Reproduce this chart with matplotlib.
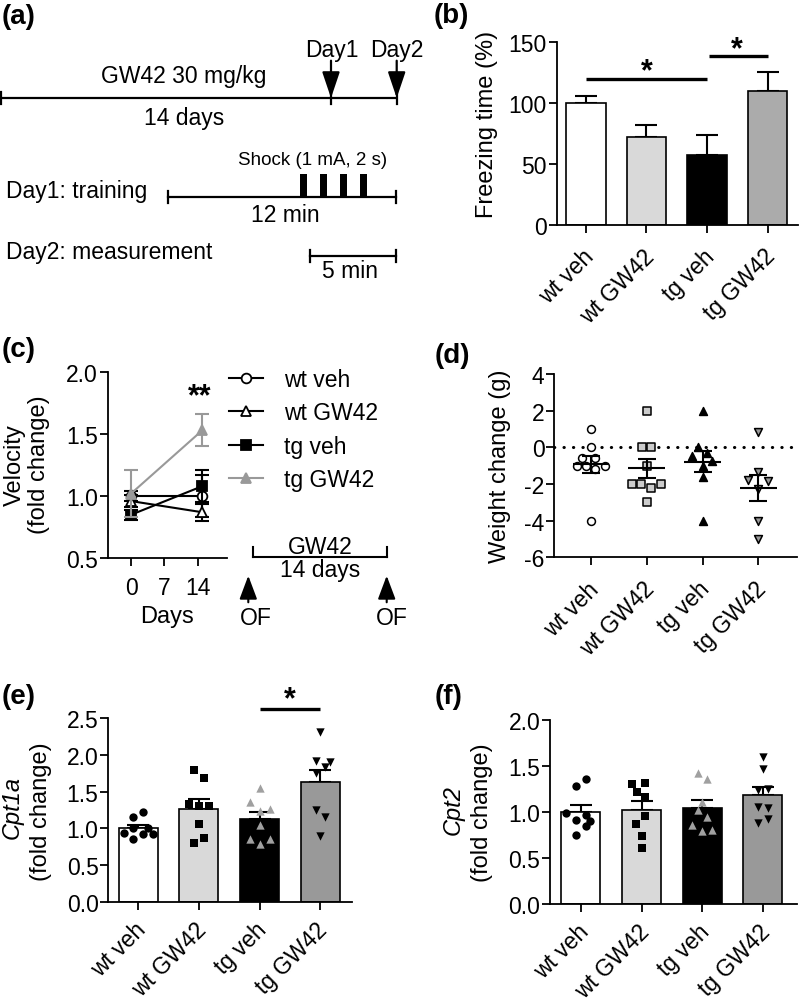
import numpy as np
import matplotlib
matplotlib.use("Agg")
import matplotlib.pyplot as plt
from matplotlib.patches import Rectangle
from matplotlib.transforms import ScaledTranslation

plt.rcParams['font.family'] = ['Liberation Sans', 'DejaVu Sans']
plt.rcParams['axes.unicode_minus'] = False

# ---------------- data ----------------
groups = ['wt veh', 'wt GW42', 'tg veh', 'tg GW42']

# (b) freezing time (%)
freeze_mean = [100.0, 71.6, 57.4, 109.6]
freeze_sem = [5.2, 10.4, 16.1, 15.3]

# (c) velocity (fold change)
vel_days = [0, 15]
vel_ticks = [0, 7, 14]
vel_wt_veh = [1.00, 1.00]
vel_wt_veh_err = [0.04, 0.17]
vel_wt_gw = [0.96, 0.87]
vel_wt_gw_err = [0.05, 0.07]
vel_tg_veh = [0.85, 1.08]
vel_tg_veh_err = [0.04, 0.13]
vel_tg_gw = [1.02, 1.53]
vel_tg_gw_err = [0.19, 0.13]

# (d) weight change (g)
wt_veh_w = [1.0, 0.0, -0.6, -0.6, -1.0, -1.0, -1.0, -1.2, -4.0]
wt_gw_w = [2.0, 0.0, 0.0, -1.0, -2.0, -2.0, -2.0, -2.24, -3.0]
tg_veh_w = [2.0, 0.0, -0.5, -0.33, -0.73, -1.0, -1.64, -4.0]
tg_gw_w = [0.82, -1.36, -1.78, -1.85, -2.27, -4.0, -5.0]
# horizontal jitter (category units)
wt_veh_wj = [0, 0, -0.17, 0.07, -0.26, -0.1, 0.25, 0.07, 0]
wt_gw_wj = [0, -0.09, 0.08, 0, -0.27, -0.1, 0.25, 0.08, 0]
tg_veh_wj = [0, -0.09, -0.18, 0.08, 0.17, 0, 0, 0]
tg_gw_wj = [0, 0, -0.18, 0.18, 0, 0, 0]

# (e) Cpt1a
cpt1a_wt_veh = [1.22, 1.15, 1.01, 1.00, 0.93, 0.92, 0.92, 0.85]
cpt1a_wt_gw = [1.79, 1.69, 1.33, 1.31, 1.31, 1.06, 0.87, 0.80]
cpt1a_tg_veh = [1.55, 1.36, 1.26, 1.24, 1.05, 0.86, 0.86, 0.79]
cpt1a_tg_gw = [2.32, 1.92, 1.91, 1.83, 1.76, 1.25, 1.16, 0.89]
cpt1a_j = [[0.08, -0.08, -0.08, 0.165, -0.24, 0.08, 0.235, -0.08],
           [-0.08, 0.08, -0.16, 0, 0.165, 0, 0.08, -0.08],
           [0, -0.15, 0.175, 0, 0, -0.15, 0.165, 0],
           [0, -0.07, 0.165, 0.08, -0.07, -0.07, 0.08, 0]]

# (f) Cpt2
cpt2_wt_veh = [1.36, 1.28, 0.99, 0.96, 0.91, 0.90, 0.84, 0.75]
cpt2_wt_gw = [1.30, 1.31, 1.21, 1.16, 0.95, 0.87, 0.74, 0.61]
cpt2_tg_veh = [1.42, 1.36, 1.11, 1.02, 0.94, 0.86, 0.79, 0.80]
cpt2_tg_gw = [1.60, 1.46, 1.24, 1.25, 1.05, 1.04, 0.88, 0.92]
cpt2_j = [[0.08, -0.08, -0.24, 0.08, -0.08, 0.15, 0.08, -0.08],
          [-0.165, 0.065, -0.08, 0.065, 0.065, -0.09, 0, 0],
          [-0.07, 0.08, 0, -0.07, 0.08, -0.165, 0, 0.165],
          [0, 0, -0.08, 0.08, -0.08, 0.08, -0.08, 0.08]]

# ---------------- figure ----------------
W, H = 800, 1003
fig = plt.figure(figsize=(W / 100, H / 100), dpi=100)
ov = fig.add_axes([0, 0, 1, 1], zorder=10)
ov.set_xlim(0, W)
ov.set_ylim(H, 0)
ov.axis('off')

FS = 16.5
LFS = 17
LW = 1.3


def axpos(l, t, r, b):
    return [l / W, 1 - b / H, (r - l) / W, (b - t) / H]


def style(ax):
    for s in ['top', 'right']:
        ax.spines[s].set_visible(False)
    for s in ['left', 'bottom']:
        ax.spines[s].set_linewidth(LW)
    ax.tick_params(direction='out', length=6, width=LW, labelsize=FS, pad=1)
    ax.patch.set_visible(False)


def catlabels(ax, pad=14):
    ax.set_xticks(range(4))
    ax.set_xticklabels(groups, rotation=45, ha='right', va='center',
                       rotation_mode='anchor', fontsize=FS)
    ax.tick_params(axis='x', pad=pad)
    off = ScaledTranslation(4 / 100, 0, fig.dpi_scale_trans)
    for lab in ax.get_xticklabels():
        lab.set_transform(lab.get_transform() + off)


def ylab(ax, text, x, y, **kw):
    ax.set_ylabel(text, fontsize=LFS, va='center', ha='center', **kw)
    ax.yaxis.set_label_coords(x, y, transform=ov.transData)


def star(x, y, s='*'):
    ov.text(x, y + 7, s, fontsize=22, fontweight='bold', ha='center', va='center')


# ---------------- panel labels ----------------
for lab, x, y in [('(a)', 2, 17), ('(b)', 434, 16), ('(c)', 2, 350),
                  ('(d)', 435, 356), ('(e)', 2, 697), ('(f)', 435, 697)]:
    ov.text(x, y, lab, fontsize=20, fontweight='bold', ha='left', va='center')

# ---------------- (a) schematic ----------------
la = 1.6
ov.plot([0, 396.7], [99, 99], 'k', lw=la, solid_capstyle='butt')
for x in [1.2, 331, 396.7]:
    ov.plot([x, x], [93, 105], 'k', lw=la)
for x in [331, 396.7]:
    ov.annotate('', xy=(x, 99), xytext=(x, 61.7),
                arrowprops=dict(arrowstyle='-|>,head_length=0.8,head_width=0.27',
                                mutation_scale=20, lw=la, color='k',
                                shrinkA=0, shrinkB=0))
ov.text(331.7, 50, 'Day1', fontsize=FS, ha='center', va='center')
ov.text(396.7, 50, 'Day2', fontsize=FS, ha='center', va='center')
ov.text(183.3, 76, 'GW42 30 mg/kg', fontsize=FS, ha='center', va='center')
ov.text(184, 118.3, '14 days', fontsize=FS, ha='center', va='center')
ov.text(312.7, 160.7, 'Shock (1 mA, 2 s)', fontsize=13.5, ha='center', va='center')
ov.text(6, 191, 'Day1: training', fontsize=FS, ha='left', va='center')
ov.plot([168.3, 396], [197.7, 197.7], 'k', lw=la)
for x in [168.3, 396]:
    ov.plot([x, x], [191.5, 204], 'k', lw=la)
for xc in [303.3, 323.3, 343.3, 363.3]:
    ov.add_patch(Rectangle((xc - 3.4, 175), 6.8, 22.7, color='k', lw=0))
ov.text(285, 215, '12 min', fontsize=FS, ha='center', va='center')
ov.text(6, 252.3, 'Day2: measurement', fontsize=FS, ha='left', va='center')
ov.plot([310, 396], [256.7, 256.7], 'k', lw=la)
for x in [310, 396]:
    ov.plot([x, x], [250.5, 263], 'k', lw=la)
ov.text(350, 271.7, '5 min', fontsize=FS, ha='center', va='center')

# ---------------- (b) ----------------
ax_b = fig.add_axes(axpos(556.7, 42.7, 798, 225.7))
style(ax_b)
bcol_b = ['white', '#d9d9d9', 'black', '#ababab']
xb = np.arange(4)
ax_b.bar(xb, freeze_mean, width=0.65, color=bcol_b, edgecolor='k', linewidth=1.2, zorder=2)
ax_b.errorbar(xb, freeze_mean, yerr=[np.zeros(4), freeze_sem], fmt='none',
              ecolor='k', elinewidth=1.5, capsize=8, capthick=1.5, zorder=1)
ax_b.set_xlim(-0.48, 3.5)
ax_b.set_ylim(0, 150)
ax_b.set_yticks([0, 50, 100, 150])
catlabels(ax_b)
ylab(ax_b, 'Freezing time (%)', 486.7, 124)
ax_b.plot([0, 2], [119.4, 119.4], 'k', lw=2.4, clip_on=False, solid_capstyle='butt')
ax_b.plot([2.04, 3.01], [138.5, 138.5], 'k', lw=2.4, clip_on=False, solid_capstyle='butt')
star(646.7, 65)
star(737.3, 43.3)

# ---------------- (c) ----------------
ax_c = fig.add_axes(axpos(107.7, 372.7, 226.7, 559.3))
style(ax_c)
ax_c.tick_params(axis='x', pad=7)
series_c = [
    (vel_wt_veh, vel_wt_veh_err, 'o', 'white', 'black', 'wt veh'),
    (vel_wt_gw, vel_wt_gw_err, '^', 'white', 'black', 'wt GW42'),
    (vel_tg_veh, vel_tg_veh_err, 's', 'black', 'black', 'tg veh'),
    (vel_tg_gw, vel_tg_gw_err, '^', '#999999', '#999999', 'tg GW42'),
]
handles = []
for vals, errs, mk, mfc, col, lab in series_c:
    ax_c.errorbar(vel_days, vals, yerr=errs, fmt='none', ecolor=col,
                  elinewidth=1.5, capsize=5, capthick=1.5, clip_on=False)
    ln, = ax_c.plot(vel_days, vals, marker=mk, mfc=mfc, mec=col, mew=1.3,
                    color=col, lw=1.5, ms=7, label=lab, clip_on=False)
    handles.append(ln)
ax_c.set_xlim(-4.9, 20.1)
ax_c.set_ylim(0.5, 2.0)
ax_c.set_xticks(vel_ticks)
ax_c.set_yticks([0.5, 1.0, 1.5, 2.0])
ax_c.set_yticklabels(['0.5', '1.0', '1.5', '2.0'])
ax_c.set_xlabel('Days', fontsize=LFS)
ax_c.xaxis.set_label_coords(166.7, 617.3, transform=ov.transData)
ax_c.xaxis.label.set_va('center')
ylab(ax_c, 'Velocity\n(fold change)', 27, 465)
ax_c.yaxis.label.set_linespacing(1.15)
ax_c.legend(handles, [h.get_label() for h in handles], loc='upper left',
            bbox_to_anchor=(229 / W, 1 - 369 / H), bbox_transform=fig.transFigure,
            frameon=False, fontsize=FS, handlelength=1.5, handletextpad=0.9,
            labelspacing=0.45, borderpad=0, borderaxespad=0)
star(200, 390, '**')
# GW42 14 days bracket and OF arrows
ov.plot([253.3, 386.7], [558.3, 558.3], 'k', lw=1.5)
for x in [253.3, 386.7]:
    ov.plot([x, x], [548, 558.3], 'k', lw=1.5)
ov.text(320, 547, 'GW42', fontsize=FS, ha='center', va='center')
ov.text(320, 571, '14 days', fontsize=FS, ha='center', va='center')
for x in [248.3, 386.7]:
    ov.annotate('', xy=(x, 576.7), xytext=(x, 603.3),
                arrowprops=dict(arrowstyle='-|>,head_length=0.72,head_width=0.27',
                                mutation_scale=20, lw=1.5, color='k',
                                shrinkA=0, shrinkB=0))
ov.text(255.7, 618.3, 'OF', fontsize=FS, ha='center', va='center')
ov.text(392, 618.3, 'OF', fontsize=FS, ha='center', va='center')

# ---------------- (d) ----------------
ax_d = fig.add_axes(axpos(554.3, 375, 796.7, 558.3))
style(ax_d)
dsets = [(wt_veh_w, wt_veh_wj, 'o', 'white'),
         (wt_gw_w, wt_gw_wj, 's', '#cccccc'),
         (tg_veh_w, tg_veh_wj, '^', 'black'),
         (tg_gw_w, tg_gw_wj, 'v', '#999999')]
ax_d.axhline(0, color='k', lw=2.2, linestyle=(0, (0.1, 3.0)), dash_capstyle='round', zorder=1)
for i, (vals, jit, mk, fc) in enumerate(dsets):
    v = np.array(vals)
    ax_d.scatter(i + np.array(jit), v, marker=mk, s=32, facecolor=fc,
                 edgecolor='k', linewidth=1.1, zorder=3)
    m = v.mean()
    sem = v.std(ddof=1) / np.sqrt(len(v))
    ax_d.hlines(m, i - 0.33, i + 0.33, color='k', lw=1.5, zorder=4)
    ax_d.errorbar([i], [m], yerr=[sem], fmt='none', ecolor='k', elinewidth=1.5,
                  capsize=6.5, capthick=1.5, zorder=4)
ax_d.set_xlim(-0.66, 3.69)
ax_d.set_ylim(-6, 4)
ax_d.set_yticks([-6, -4, -2, 0, 2, 4])
catlabels(ax_d)
ylab(ax_d, 'Weight change (g)', 500, 466.7)

# ---------------- (e) & (f) ----------------
bar_cols = ['white', '#d9d9d9', 'black', '#999999']
pt_style = [('o', 'black'), ('s', 'black'), ('^', '#a0a0a0'), ('v', 'black')]


def qpcr(ax, data, jits, xlim, ylim, yticks):
    style(ax)
    means = [np.mean(d) for d in data]
    sems = [np.std(d, ddof=1) / np.sqrt(len(d)) for d in data]
    xs = np.arange(4)
    ax.bar(xs, means, width=0.645, color=bar_cols, edgecolor='k', linewidth=1.2, zorder=2)
    ax.errorbar(xs, means, yerr=[np.zeros(4), sems], fmt='none', ecolor='k',
                elinewidth=1.5, capsize=8, capthick=1.5, zorder=1)
    for i, (d, j) in enumerate(zip(data, jits)):
        mk, c = pt_style[i]
        ax.scatter(i + np.array(j), d, marker=mk, s=36, color=c, linewidth=0, zorder=3)
    ax.set_xlim(*xlim)
    ax.set_ylim(*ylim)
    ax.set_yticks(yticks)
    ax.set_yticklabels(['%.1f' % t for t in yticks])
    catlabels(ax, pad=11.5)


ax_e = fig.add_axes(axpos(108.3, 719.3, 351.7, 902.7))
qpcr(ax_e, [cpt1a_wt_veh, cpt1a_wt_gw, cpt1a_tg_veh, cpt1a_tg_gw], cpt1a_j,
     (-0.495, 3.52), (0, 2.5), [0.0, 0.5, 1.0, 1.5, 2.0, 2.5])
ax_e.plot([2.01, 3.0], [2.63, 2.63], 'k', lw=2.4, clip_on=False, solid_capstyle='butt')
star(290, 693)
ov.text(12, 808, 'Cpt1a', fontsize=LFS, style='italic', rotation=90, ha='center', va='center')
ov.text(41, 811.7, '(fold change)', fontsize=LFS, rotation=90, ha='center', va='center')

ax_f = fig.add_axes(axpos(550, 720.7, 796.7, 904.7))
qpcr(ax_f, [cpt2_wt_veh, cpt2_wt_gw, cpt2_tg_veh, cpt2_tg_gw], cpt2_j,
     (-0.51, 3.56), (0, 2.0), [0.0, 0.5, 1.0, 1.5, 2.0])
ov.text(453, 810, 'Cpt2', fontsize=LFS, style='italic', rotation=90, ha='center', va='center')
ov.text(482, 812.5, '(fold change)', fontsize=LFS, rotation=90, ha='center', va='center')

fig.savefig('out.png', dpi=100)
